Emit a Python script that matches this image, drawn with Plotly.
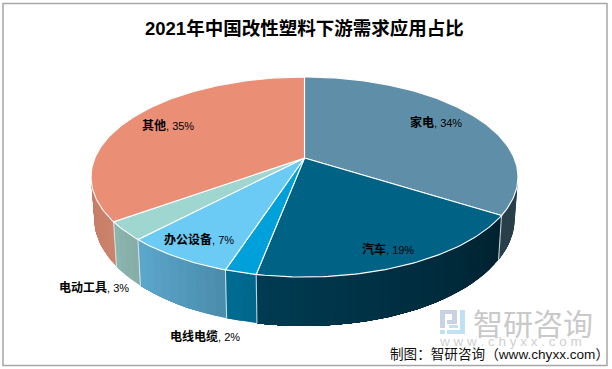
import math
import plotly.graph_objects as go

# Data
categories = ["家电", "汽车", "电线电缆", "办公设备", "电动工具", "其他"]
values = [34, 19, 2, 7, 3, 35]
title_text = "2021年中国改性塑料下游需求应用占比"
footer_text = "制图：智研咨询（www.chyxx.com）"

top_colors = ["#5F8FA8", "#006285", "#00A0DA", "#6CCBF4", "#A0D6D0", "#EA8E76"]
wall_left = ["#2A3F4A", "#003B53", "#006C92", "#5CA8CE", "#8CB6B0", "#C47A64"]
wall_right = ["#26404C", "#00222F", "#00678B", "#4A8CAB", "#86ACA8", "#CC836C"]
label_pos = [(408, 122), (360, 249), (168, 336), (162, 239), (57, 288), (140, 125)]

# Perspective model of the tilted disc
CX, CY, A, B, K, DEPTH, SHRINK = 304.5, 158.0, 209.6, 96.4, 0.19, 39.7, 0.985
SANS = "Liberation Sans, Noto Sans CJK SC"


def top_pt(t):
    d = 1 + K * math.cos(t)
    return CX + A * math.sin(t) / d, CY - B * math.cos(t) / d


def bot_pt(t):
    d = 1 + K * math.cos(t)
    x, y = top_pt(t)
    return CX + (x - CX) * SHRINK, y + DEPTH / d


def hex2rgb(h):
    return [int(h[i:i + 2], 16) for i in (1, 3, 5)]


def mix(a, b, f):
    ca, cb = hex2rgb(a), hex2rgb(b)
    return "rgb(%d,%d,%d)" % tuple(round(x + (y - x) * f) for x, y in zip(ca, cb))


def arc(a0, a1, n):
    return [a0 + (a1 - a0) * i / n for i in range(n + 1)]


fig = go.Figure()


def poly(xs, ys, fill, line=None, width=0):
    fig.add_trace(go.Scatter(
        x=xs, y=ys, mode="lines", fill="toself", fillcolor=fill,
        line=dict(color=line or fill, width=width), hoverinfo="skip", showlegend=False))


# Slice boundaries, clockwise from 12 o'clock
total = sum(values)
edges = [0.0]
for v in values:
    edges.append(edges[-1] + 2 * math.pi * v / total)

# Visible wall range
vis0 = math.acos(-K)
vis1 = 2 * math.pi - vis0

# Side walls with horizontal gradient; each band runs on to the slice end so no seams show
for i in range(len(values)):
    a0, a1 = max(edges[i], vis0), min(edges[i + 1], vis1)
    if a1 <= a0:
        continue
    n = max(2, int((a1 - a0) / math.radians(2.5)))
    ts = arc(a0, a1, n)
    for j in range(n):
        f = (j + 0.5) / n
        col = mix(wall_right[i], wall_left[i], f)
        span = arc(ts[j], a1, max(2, n - j))
        up = [top_pt(t) for t in span]
        lo = [bot_pt(t) for t in reversed(span)]
        p = up + lo + [up[0]]
        poly([q[0] for q in p], [q[1] for q in p], col, col, 0)

# Light separators on the wall
for e in edges:
    if vis0 < e < vis1:
        a, b = top_pt(e), bot_pt(e)
        fig.add_trace(go.Scatter(x=[a[0], b[0]], y=[a[1], b[1]], mode="lines",
                                 line=dict(color="rgba(225,235,240,0.85)", width=1.1),
                                 hoverinfo="skip", showlegend=False))

# Top face
for i in range(len(values)):
    n = max(3, int((edges[i + 1] - edges[i]) / math.radians(1.0)))
    ts = arc(edges[i], edges[i + 1], n)
    pts = [top_pt(t) for t in ts]
    poly([CX] + [p[0] for p in pts] + [CX], [CY] + [p[1] for p in pts] + [CY],
         top_colors[i], "#FFFFFF", 1.1)

# Labels
annos = []
for name, v, (lx, ly) in zip(categories, values, label_pos):
    annos.append(dict(
        x=lx, y=ly, xref="x", yref="y", xanchor="left", yanchor="middle", showarrow=False,
        text=f"<b>{name}</b><span style='font-size:11px'>, {v}%</span>",
        font=dict(family=SANS, size=12, color="#000000")))

annos.append(dict(x=304, y=28, xref="x", yref="y", xanchor="center", yanchor="middle", showarrow=False,
                  text=f"<b>{title_text}</b>", font=dict(family=SANS, size=18.5, color="#000000")))
annos.append(dict(x=471, y=322, xref="x", yref="y", xanchor="left", yanchor="middle", showarrow=False,
                  text="智研咨询", font=dict(family="Noto Sans CJK SC", size=30, color="#C9C9C9")))
annos.append(dict(x=437, y=341, xref="x", yref="y", xanchor="left", yanchor="middle", showarrow=False,
                  text="w w w . c h y x x . c o m",
                  font=dict(family=SANS, size=13.5, color="#CFCFCF")))
annos.append(dict(x=388, y=354, xref="x", yref="y", xanchor="left", yanchor="middle", showarrow=False,
                  text=footer_text, font=dict(family=SANS, size=13.6, color="#111111")))

# Logo blocks and outer frame
GREY, BLUE = "#C8D2E2", "#BFE1F3"
logo = [(440, 310, 457, 314, GREY), (440, 310, 445, 328, GREY), (440, 330, 445, 334, BLUE),
        (452, 310, 457, 324, GREY), (447, 320, 457, 324, GREY),
        (460, 310, 465, 334, BLUE), (447, 330, 465, 334, BLUE), (449, 325, 458, 328, BLUE)]
shapes = [dict(type="rect", xref="x", yref="y", x0=a, y0=b, x1=c, y1=d, fillcolor=col,
               line=dict(width=0), layer="below") for a, b, c, d, col in logo]
shapes.append(dict(type="rect", xref="x", yref="y", x0=3, y0=3.5, x1=607, y1=365.5,
                   line=dict(color="#A6A6A6", width=1.5), layer="above"))

fig.update_layout(
    width=612, height=369, margin=dict(l=0, r=0, t=0, b=0),
    paper_bgcolor="#FFFFFF", plot_bgcolor="#FFFFFF", showlegend=False,
    xaxis=dict(range=[0, 612], visible=False, fixedrange=True),
    yaxis=dict(range=[369, 0], visible=False, fixedrange=True),
    annotations=annos, shapes=shapes)

fig.write_html("out.html", config=dict(displayModeBar=False),
               post_script="document.body.style.margin='0';document.body.style.overflow='hidden';")
